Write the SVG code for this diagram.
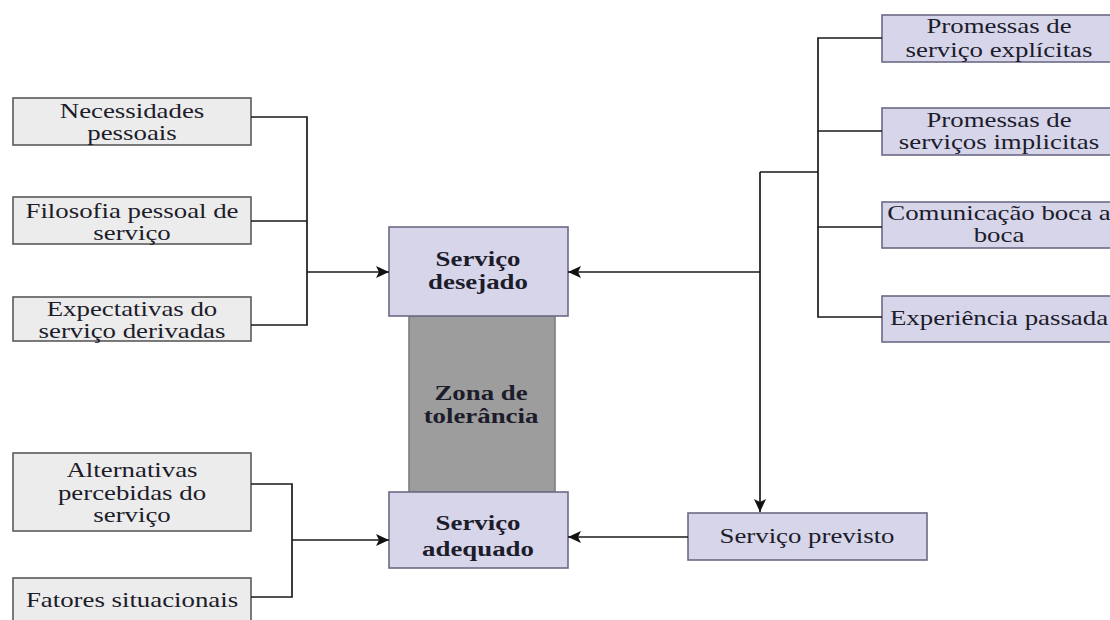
<svg xmlns="http://www.w3.org/2000/svg" width="1110" height="620" viewBox="0 0 1110 620">
  <style>
    .grey { fill: #ececec; stroke: #5a5a5a; stroke-width: 1.6; }
    .lav { fill: #d7d5ea; stroke: #6c6986; stroke-width: 1.6; }
    .zone { fill: #9d9d9d; stroke: #7d7d7d; stroke-width: 1.6; }
    .t { font-family: "Liberation Serif", "Times New Roman", serif; font-size: 22px; fill: #1c1c2a; text-anchor: middle; }
    .b { font-weight: bold; }
    .wire { fill: none; stroke: #1a1a1a; stroke-width: 1.7; }
  </style>
  <defs>
    <marker id="arrow" markerUnits="userSpaceOnUse" markerWidth="14" markerHeight="12" refX="13" refY="6" orient="auto">
      <path d="M0,0 L13,6 L0,12 L3,6 Z" fill="#111"/>
    </marker>
  </defs>
  <rect width="1110" height="620" fill="#ffffff"/>

  <!-- left: desired-service inputs -->
  <g id="necessidades">
    <rect class="grey" x="13" y="98" width="238" height="47"/>
    <text class="t" transform="translate(132 118) scale(1.22 1)">Necessidades</text>
    <text class="t" transform="translate(132 140) scale(1.22 1)">pessoais</text>
  </g>
  <g id="filosofia">
    <rect class="grey" x="13" y="197" width="238" height="47"/>
    <text class="t" transform="translate(132 218) scale(1.22 1)">Filosofia pessoal de</text>
    <text class="t" transform="translate(132 240) scale(1.22 1)">serviço</text>
  </g>
  <g id="expectativas">
    <rect class="grey" x="13" y="297" width="238" height="44"/>
    <text class="t" transform="translate(132 316) scale(1.22 1)">Expectativas do</text>
    <text class="t" transform="translate(132 338) scale(1.22 1)">serviço derivadas</text>
  </g>

  <!-- left: adequate-service inputs -->
  <g id="alternativas">
    <rect class="grey" x="13" y="453" width="238" height="78"/>
    <text class="t" transform="translate(132 477) scale(1.22 1)">Alternativas</text>
    <text class="t" transform="translate(132 500) scale(1.22 1)">percebidas do</text>
    <text class="t" transform="translate(132 522) scale(1.22 1)">serviço</text>
  </g>
  <g id="fatores">
    <rect class="grey" x="13" y="578" width="238" height="46"/>
    <text class="t" transform="translate(132 607) scale(1.22 1)">Fatores situacionais</text>
  </g>

  <!-- centre column -->
  <g id="zona">
    <rect class="zone" x="409" y="316" width="146" height="176"/>
    <text class="t b" transform="translate(481 400) scale(1.22 1)">Zona de</text>
    <text class="t b" transform="translate(481 423) scale(1.22 1)">tolerância</text>
  </g>
  <g id="desejado">
    <rect class="lav" x="389" y="227" width="179" height="89"/>
    <text class="t b" transform="translate(478 266) scale(1.22 1)">Serviço</text>
    <text class="t b" transform="translate(478 289) scale(1.22 1)">desejado</text>
  </g>
  <g id="adequado">
    <rect class="lav" x="389" y="492" width="179" height="76"/>
    <text class="t b" transform="translate(478 530) scale(1.22 1)">Serviço</text>
    <text class="t b" transform="translate(478 556) scale(1.22 1)">adequado</text>
  </g>

  <!-- right: promises and experience -->
  <g id="explicitas">
    <rect class="lav" x="882" y="15" width="236" height="47"/>
    <text class="t" transform="translate(999 33) scale(1.22 1)">Promessas de</text>
    <text class="t" transform="translate(999 57) scale(1.22 1)">serviço explícitas</text>
  </g>
  <g id="implicitas">
    <rect class="lav" x="882" y="108" width="236" height="47"/>
    <text class="t" transform="translate(999 127) scale(1.22 1)">Promessas de</text>
    <text class="t" transform="translate(999 149) scale(1.22 1)">serviços implicitas</text>
  </g>
  <g id="boca">
    <rect class="lav" x="882" y="202" width="236" height="46"/>
    <text class="t" transform="translate(999 220) scale(1.22 1)">Comunicação boca a</text>
    <text class="t" transform="translate(999 242) scale(1.22 1)">boca</text>
  </g>
  <g id="experiencia">
    <rect class="lav" x="882" y="296" width="236" height="46"/>
    <text class="t" transform="translate(999 325) scale(1.22 1)">Experiência passada</text>
  </g>
  <g id="previsto">
    <rect class="lav" x="688" y="513" width="239" height="47"/>
    <text class="t" transform="translate(807 543) scale(1.22 1)">Serviço previsto</text>
  </g>

  <!-- connectors -->
  <g id="connectors">
    <path class="wire" d="M251,117 H307 V325 H251 M251,221 H307"/>
    <path class="wire" d="M307,272 H389" marker-end="url(#arrow)"/>
    <path class="wire" d="M251,484 H292 V597 H251"/>
    <path class="wire" d="M292,540 H389" marker-end="url(#arrow)"/>
    <path class="wire" d="M882,38 H818 V317 H882 M818,131 H882 M818,227 H882 M818,172 H760"/>
    <path class="wire" d="M760,172 V512" marker-end="url(#arrow)"/>
    <path class="wire" d="M760,272 H568" marker-end="url(#arrow)"/>
    <path class="wire" d="M688,537 H568" marker-end="url(#arrow)"/>
  </g>
</svg>
